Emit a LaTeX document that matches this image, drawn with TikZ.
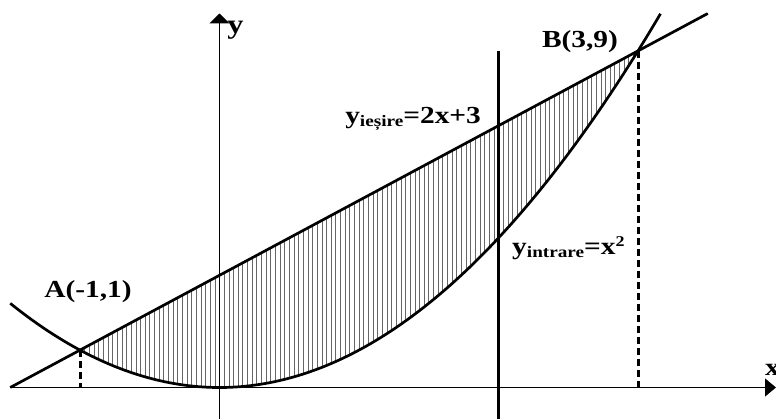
\documentclass[tikz,border=0pt]{standalone}
\usepackage{fontspec}
\setmainfont{Liberation Serif}
\usetikzlibrary{arrows.meta}
\newcommand\mysubtxt[1]{\raisebox{-3bp}{\fontsize{16bp}{16bp}\selectfont #1}}
\newcommand\mysuptxt[1]{\raisebox{8bp}{\fontsize{15bp}{15bp}\selectfont #1}}
\newcommand\wide[1]{\scalebox{1.2}[1]{#1}}
\tikzset{
  lbl/.style={font=\bfseries\fontsize{24.5bp}{24.5bp}\selectfont, inner sep=0pt},
  curveline/.style={line width=2.7bp},
  axisline/.style={line width=1.2bp},
  dashguide/.style={line width=3bp, dash pattern=on 7bp off 4bp, black},
  hatchline/.style={line width=0.6bp, black!60}}
\begin{document}
\begin{tikzpicture}[x=139.5bp,y=37.4bp]
\useasboundingbox (-1.5735,-0.8422) rectangle (3.9892,10.361);
% coordinates
\coordinate (O) at (0,0);
\coordinate (A) at (-1,1);
\coordinate (B) at (3,9);
\coordinate (Ax) at (-1,0);
\coordinate (Bx) at (3,0);
\coordinate (xs) at (-1.5,0);
\coordinate (xe) at (3.9892,0);
\coordinate (ys) at (0,-0.8422);
\coordinate (ye) at (0,10);
\coordinate (vt) at (2,9);
\coordinate (vb) at (2,-0.8422);
\coordinate (ls) at (-1.5,0);
\coordinate (le) at (3.5,10);
% hatching
\foreach \i in {1,...,119}{
  \pgfmathsetmacro\xx{-1+\i/30}
  \draw[hatchline] (\xx,{\xx*\xx}) -- (\xx,{2*\xx+3});
}
% axes
\draw[axisline,-{Triangle[length=11bp,width=18bp]}] (xs) -- (xe);
\draw[axisline,-{Triangle[length=10bp,width=20bp]}] (ys) -- (ye);
% guides
\draw[dashguide] (A) -- (Ax);
\draw[dashguide] (B) -- (Bx);
\draw[line width=2.5bp] (vt) -- (vb);
% curves
\draw[curveline] (ls) -- (le);
\draw[curveline,domain=-1.5:3.1623,samples=120,smooth] plot (\x,{\x*\x});
% labels
\node[lbl] (lA) at (-0.943,2.553) {\wide{A(-1,1)}};
\node[lbl] (lB) at (2.584,9.238) {\wide{B(3,9)}};
\node[lbl,anchor=base west] (lout) at (0.9,7.07) {\wide{y\mysubtxt{ieșire}=2x+3}};
\node[lbl,anchor=base west] (lin) at (2.097,3.543) {\wide{y\mysubtxt{intrare}=x\mysuptxt{2}}};
\node[lbl,font=\bfseries\fontsize{27bp}{27bp}\selectfont] (ly) at (0.115,9.54) {\wide{y}};
\node[lbl,anchor=west] (lx) at (3.9104,0.468) {\wide{x}};
\end{tikzpicture}
\end{document}
